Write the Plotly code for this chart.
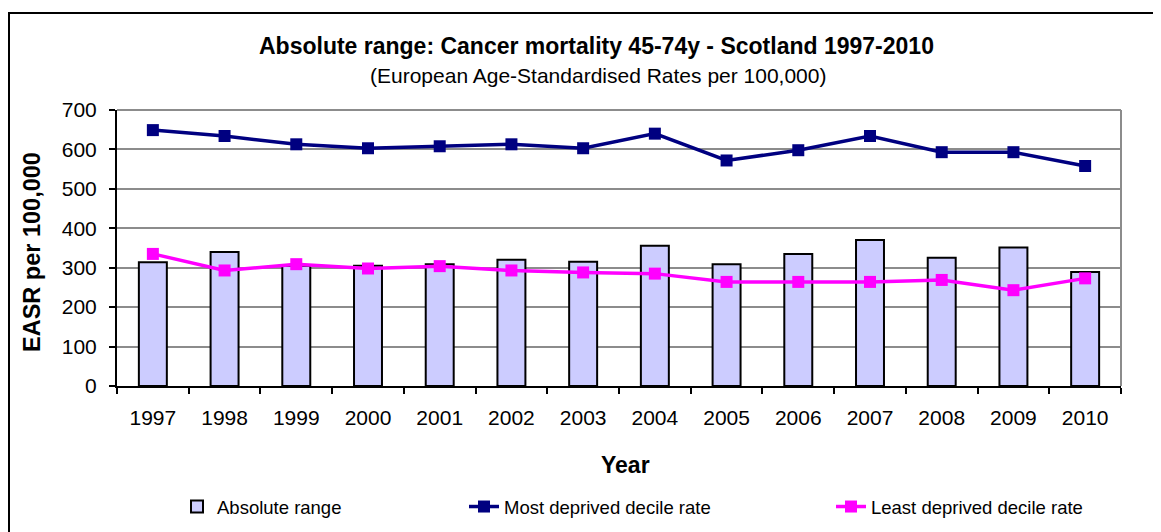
import plotly.graph_objects as go

years = [str(y) for y in range(1997, 2011)]
absolute_range = [314, 340, 305, 305, 309, 320, 315, 356, 309, 335, 370, 325, 351, 289]
most_deprived = [649, 634, 613, 603, 608, 613, 603, 640, 572, 598, 634, 593, 593, 558]
least_deprived = [335, 293, 309, 298, 304, 293, 288, 285, 264, 264, 264, 269, 243, 273]

# The page body adds an 8px margin; work in page pixel coordinates and shift.
OFF = 8
W, H = 1161 - OFF, 532 - OFF
PL, PR, PT, PB = 117, 1121, 110, 386  # plot area in page pixels
L, R, T, B = PL - OFF, PR - OFF, PT - OFF, PB - OFF
FONT = "Liberation Sans, Arial, sans-serif"


def px_x(px):
    return (px - PL) / (PR - PL)


def px_y(py):
    return (PB - py) / (PB - PT)


fig = go.Figure()
fig.add_trace(go.Bar(
    x=years, y=absolute_range, name="Absolute range", width=0.39,
    marker=dict(color="#CCCCFF", line=dict(color="black", width=2)),
    legend="legend",
))
fig.add_trace(go.Scatter(
    x=years, y=most_deprived, name="Most deprived decile rate", mode="lines+markers",
    line=dict(color="#000080", width=3.5),
    marker=dict(symbol="square", size=12, color="#000080"),
    legend="legend2",
))
fig.add_trace(go.Scatter(
    x=years, y=least_deprived, name="Least deprived decile rate", mode="lines+markers",
    line=dict(color="#FF00FF", width=3.5),
    marker=dict(symbol="square", size=12, color="#FF00FF"),
    legend="legend3",
))

leg_common = dict(orientation="h", xref="container", yref="container",
                  yanchor="middle", xanchor="left", bgcolor="rgba(0,0,0,0)",
                  font=dict(family=FONT, size=18.5, color="black"))
leg_y = 1 - (507 - OFF) / H

fig.update_layout(
    width=W, height=H, autosize=False,
    margin=dict(l=L, r=W - R, t=T, b=H - B),
    paper_bgcolor="white", plot_bgcolor="white",
    font=dict(family=FONT, color="black"),
    showlegend=True,
    legend=dict(x=(217 - OFF - 40) / W, y=leg_y, **leg_common),
    legend2=dict(x=(504 - OFF - 40) / W, y=leg_y, **leg_common),
    legend3=dict(x=(871 - OFF - 40) / W, y=leg_y, **leg_common),
    xaxis=dict(
        type="category", tickson="boundaries", range=[-0.5, 13.5],
        ticks="outside", ticklen=6, tickwidth=1.5, tickcolor="black",
        showline=True, linecolor="black", linewidth=2, showgrid=False,
        tickfont=dict(family=FONT, size=21, color="black"),
        ticklabelstandoff=12,
    ),
    yaxis=dict(
        range=[0, 700], dtick=100, tick0=0,
        showgrid=True, gridcolor="#8c8c8c", gridwidth=1.5, zeroline=False,
        showline=True, linecolor="black", linewidth=2,
        ticks="outside", ticklen=6, tickwidth=1.5, tickcolor="black",
        tickfont=dict(family=FONT, size=21, color="black"),
        ticklabelstandoff=8,
    ),
    shapes=[
        dict(type="line", xref="paper", yref="paper", x0=0, x1=1, y0=1, y1=1,
             line=dict(color="#8c8c8c", width=2)),
        dict(type="line", xref="paper", yref="paper", x0=1, x1=1, y0=0, y1=1,
             line=dict(color="#8c8c8c", width=2)),
        dict(type="rect", xref="paper", yref="paper",
             x0=px_x(9), x1=px_x(1175), y0=px_y(13), y1=px_y(560),
             line=dict(color="black", width=2), fillcolor="rgba(0,0,0,0)"),
    ],
    annotations=[
        dict(text="<b>Absolute range: Cancer mortality 45-74y - Scotland 1997-2010</b>",
             xref="paper", yref="paper", x=px_x(596), y=px_y(46),
             showarrow=False, xanchor="center", yanchor="middle",
             font=dict(family=FONT, size=23, color="black")),
        dict(text="(European Age-Standardised Rates per 100,000)",
             xref="paper", yref="paper", x=px_x(598), y=px_y(76),
             showarrow=False, xanchor="center", yanchor="middle",
             font=dict(family=FONT, size=21, color="black")),
        dict(text="<b>EASR per 100,000</b>", textangle=-90,
             xref="paper", yref="paper", x=px_x(32), y=px_y(252),
             showarrow=False, xanchor="center", yanchor="middle",
             font=dict(family=FONT, size=23.5, color="black")),
        dict(text="<b>Year</b>",
             xref="paper", yref="paper", x=px_x(625), y=px_y(465),
             showarrow=False, xanchor="center", yanchor="middle",
             font=dict(family=FONT, size=23, color="black")),
    ],
)

fig.write_html("out.html")
